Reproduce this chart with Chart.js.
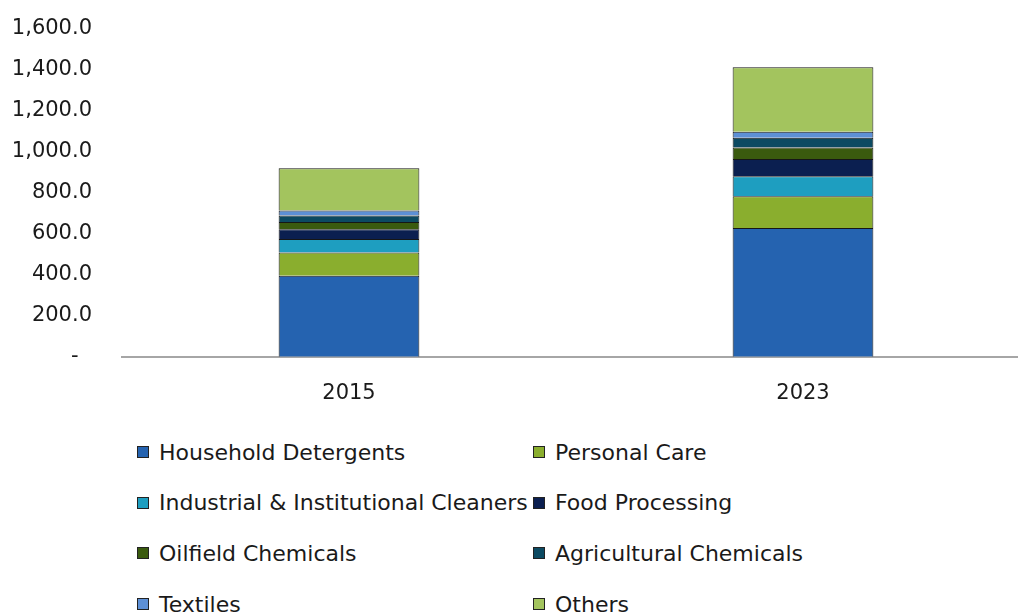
<!DOCTYPE html>
<html>
<head>
<meta charset="utf-8">
<script src="https://cdn.jsdelivr.net/npm/chart.js@4"></script>
<style>
  html, body { margin: 0; padding: 0; background: #fff; overflow: hidden; }
  #wrap { position: relative; width: 1018px; height: 615px; overflow: hidden; }
  #chartBox { position: absolute; left: 0; top: -14px; width: 1030px; height: 451px; }
  #legend { position: absolute; left: 137px; top: 437px; display: grid; grid-template-columns: 396px 300px; grid-auto-rows: 50.7px; font-family: "DejaVu Sans", sans-serif; font-size: 22px; color: #1a1a1a; }
  .item { display: flex; align-items: center; height: 30px; white-space: nowrap; }
  .box { width: 10px; height: 10px; border: 1px solid #222; margin-right: 10px; flex: none; }
</style>
</head>
<body>
<div id="wrap">
  <div id="chartBox"><canvas id="chart"></canvas></div>
  <div id="legend"></div>
</div>
<script>
const years = ['2015', '2023'];
const segments = ['Household Detergents', 'Personal Care', 'Industrial & Institutional Cleaners', 'Food Processing',
                  'Oilfield Chemicals', 'Agricultural Chemicals', 'Textiles', 'Others'];
const householdDetergents = [395, 628];
const personalCare = [113, 155];
const industrialCleaners = [66, 97];
const foodProcessing = [48, 84];
const oilfieldChemicals = [35, 56];
const agriculturalChemicals = [32, 48];
const textiles = [24, 29];
const others = [206, 314];
const yTicks = [0, 200, 400, 600, 800, 1000, 1200, 1400, 1600];

const seriesValues = [householdDetergents, personalCare, industrialCleaners, foodProcessing,
                      oilfieldChemicals, agriculturalChemicals, textiles, others];
const colors = ['#2563b0', '#8aae2e', '#1e9ec0', '#0b1f50', '#3a5a0e', '#0c4a62', '#5d90d6', '#a3c45e'];

const fontFamily = '"DejaVu Sans", sans-serif';

const chart = new Chart(document.getElementById('chart'), {
    type: 'bar',
    data: {
        labels: years,
        datasets: segments.map((name, i) => ({
            label: name,
            data: seriesValues[i],
            backgroundColor: colors[i],
            borderColor: '#161616',
            borderWidth: 1,
            categoryPercentage: 1,
            barPercentage: 0.31
        }))
    },
    options: {
        responsive: true,
        maintainAspectRatio: false,
        animation: false,
        layout: { padding: { top: 14, right: 0, bottom: 7, left: 0 } },
        plugins: { legend: { display: false }, tooltip: { enabled: false } },
        scales: {
            x: {
                stacked: true,
                grid: { display: false, drawTicks: false },
                border: { display: true, color: '#a6a6a6', width: 2 },
                ticks: { color: '#1a1a1a', padding: 24, font: { family: fontFamily, size: 21 } }
            },
            y: {
                stacked: true,
                min: 0,
                max: 1600,
                afterBuildTicks: (scale) => { scale.ticks = yTicks.map(v => ({ value: v })); },
                afterFit: (scale) => { scale.width = 122; },
                grid: { display: false, drawTicks: false },
                border: { display: false },
                ticks: {
                    color: '#1a1a1a',
                    padding: 30,
                    font: { family: fontFamily, size: 21 },
                    callback: (v) => v === 0 ? '-  ' : v.toLocaleString('en-US', { minimumFractionDigits: 1, maximumFractionDigits: 1 })
                }
            }
        }
    }
});

const legendEl = document.getElementById('legend');
segments.forEach((name, i) => {
    const item = document.createElement('div');
    item.className = 'item';
    item.innerHTML = `<span class="box" style="background:${colors[i]}"></span><span>${name}</span>`;
    legendEl.appendChild(item);
});
</script>
</body>
</html>
